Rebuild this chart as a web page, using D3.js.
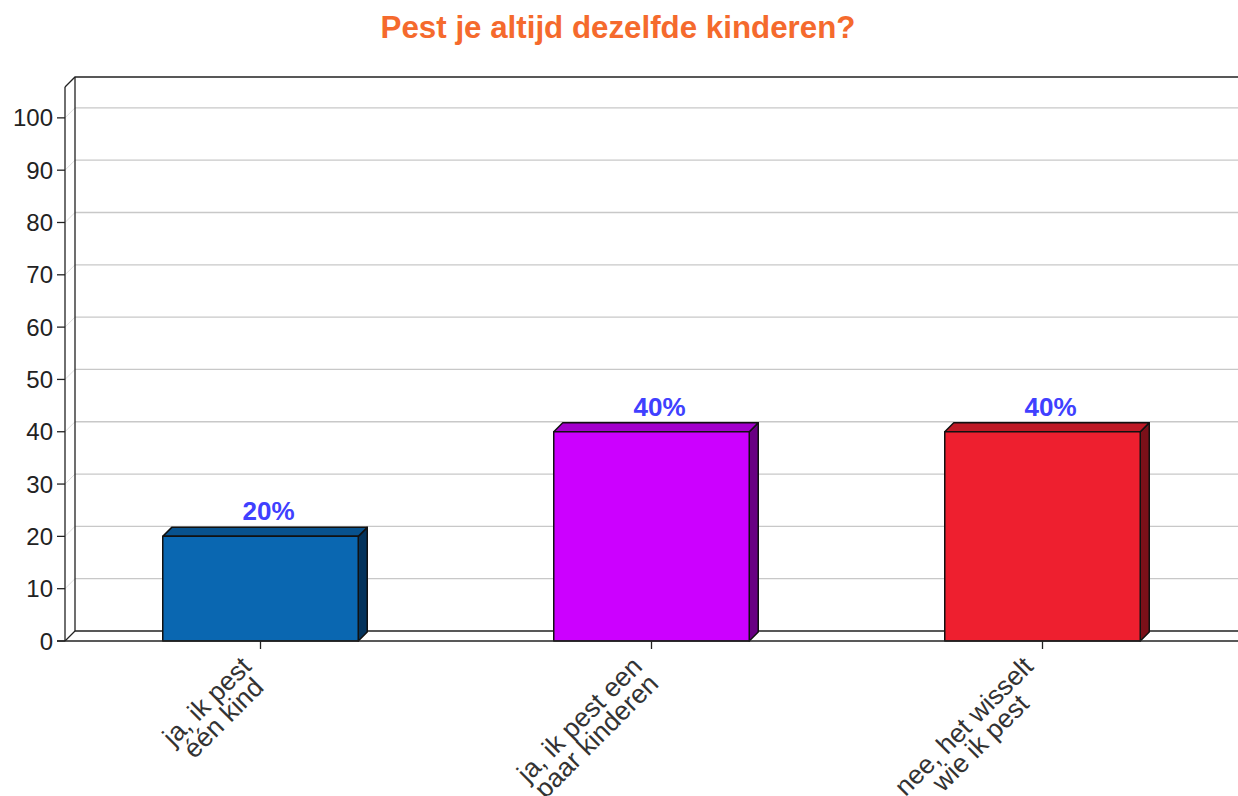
<!DOCTYPE html>
<html lang="nl">
<head>
<meta charset="UTF-8">
<title>Pest je altijd dezelfde kinderen?</title>
<script src="https://d3js.org/d3.v7.min.js"></script>
<style>
    body { margin: 0; background: #fff; }
    svg { display: block; font-family: 'Liberation Sans', Arial, sans-serif; }
    .tick-label { font-size: 24px; fill: #222; }
    .cat-label { font-size: 26.5px; fill: #333; }
    .value-label { font-size: 26px; font-weight: bold; fill: #4040ff; }
    .title { font-size: 31.3px; font-weight: bold; fill: #f56a2d; }
</style>
</head>
<body>
<div id="chart"></div>
<script>
const categories = [["ja, ik pest", "één kind"], ["ja, ik pest een", "paar kinderen"], ["nee, het wisselt", "wie ik pest"]];
const values = [20, 40, 40];
const valueLabels = ["20%", "40%", "40%"];
const yTicks = [0, 10, 20, 30, 40, 50, 60, 70, 80, 90, 100];
const frontColors = ["#0a67b1", "#cc00ff", "#ee1f2f"];
const topColors = ["#08528e", "#a300cc", "#be1925"];
const sideColors = ["#04335c", "#690083", "#7b1019"];

const W = 1238, H = 796;
const left = 65, right = 1238, bottom = 641;
const depth = 10;     // wall depth offset
const barDepth = 9;   // bar depth offset

const svg = d3.select("#chart").append("svg")
    .attr("width", W).attr("height", H);

const x = d3.scaleBand().domain(d3.range(categories.length))
    .range([left, right]).paddingInner(0.5).paddingOuter(0.25);
const y = d3.scaleLinear().domain([0, 105.9]).range([bottom, 87]);

// title
svg.append("text").attr("class", "title")
    .attr("x", 618).attr("y", 38).attr("text-anchor", "middle")
    .text("Pest je altijd dezelfde kinderen?");

// gridlines on back wall and side wall
const grid = svg.append("g");
yTicks.filter(t => t > 0).forEach(t => {
    grid.append("line")
        .attr("x1", left + depth).attr("x2", right)
        .attr("y1", y(t) - depth).attr("y2", y(t) - depth)
        .attr("stroke", "#c8c8c8").attr("stroke-width", 1.3);
    grid.append("line")
        .attr("x1", left).attr("x2", left + depth)
        .attr("y1", y(t)).attr("y2", y(t) - depth)
        .attr("stroke", "#dddddd").attr("stroke-width", 1);
});

// wall frame
const frame = svg.append("g").attr("fill", "none").attr("stroke", "#222").attr("stroke-width", 1.3);
const yTop = y.range()[1];
frame.append("path").attr("d", `M${left},${yTop}L${left + depth},${yTop - depth}H${right}`);
frame.append("path").attr("d", `M${left + depth},${yTop - depth}V${bottom - depth}H${right}`);
frame.append("path").attr("d", `M${left},${bottom}L${left + depth},${bottom - depth}`);

// bars
const bars = svg.append("g").attr("stroke", "#111").attr("stroke-width", 1.5).attr("stroke-linejoin", "round");
values.forEach((v, i) => {
    const x0 = x(i), x1 = x(i) + x.bandwidth(), yt = y(v);
    bars.append("path")
        .attr("fill", sideColors[i])
        .attr("d", `M${x1},${yt}L${x1 + barDepth},${yt - barDepth}V${bottom - barDepth}L${x1},${bottom}Z`);
    bars.append("path")
        .attr("fill", topColors[i])
        .attr("d", `M${x0},${yt}L${x0 + barDepth},${yt - barDepth}H${x1 + barDepth}L${x1},${yt}Z`);
    bars.append("rect")
        .attr("fill", frontColors[i])
        .attr("x", x0).attr("y", yt).attr("width", x.bandwidth()).attr("height", bottom - yt);
    svg.append("text").attr("class", "value-label")
        .attr("x", x0 + x.bandwidth() / 2 + 8).attr("y", yt - 16)
        .attr("text-anchor", "middle")
        .text(valueLabels[i]);
});

// y axis
const yAxis = svg.append("g").attr("stroke", "#222").attr("stroke-width", 1.3);
yAxis.append("line").attr("x1", left).attr("x2", left).attr("y1", yTop).attr("y2", bottom);
yTicks.forEach(t => {
    yAxis.append("line").attr("x1", left - 8).attr("x2", left).attr("y1", y(t)).attr("y2", y(t));
    svg.append("text").attr("class", "tick-label")
        .attr("x", 53).attr("y", y(t) + 8.5).attr("text-anchor", "end")
        .text(t);
});

// x axis
const xAxis = svg.append("g").attr("stroke", "#222").attr("stroke-width", 1.3);
xAxis.append("line").attr("x1", left - 8).attr("x2", right).attr("y1", bottom).attr("y2", bottom);
categories.forEach((lines, i) => {
    const cx = x(i) + x.bandwidth() / 2;
    xAxis.append("line").attr("x1", cx).attr("x2", cx).attr("y1", bottom).attr("y2", bottom + 8);
    const g = svg.append("g").attr("transform", `translate(${cx},${bottom + 8}) rotate(-45)`);
    const texts = lines.map((l, k) => g.append("text").attr("class", "cat-label")
        .attr("text-anchor", "end").attr("y", 8 + k * 23.5).text(l));
    const widths = texts.map(t => t.node().getComputedTextLength());
    const maxW = d3.max(widths);
    texts.forEach((t, k) => t.attr("x", -19 - (maxW - widths[k]) / 2));
});
</script>
</body>
</html>
